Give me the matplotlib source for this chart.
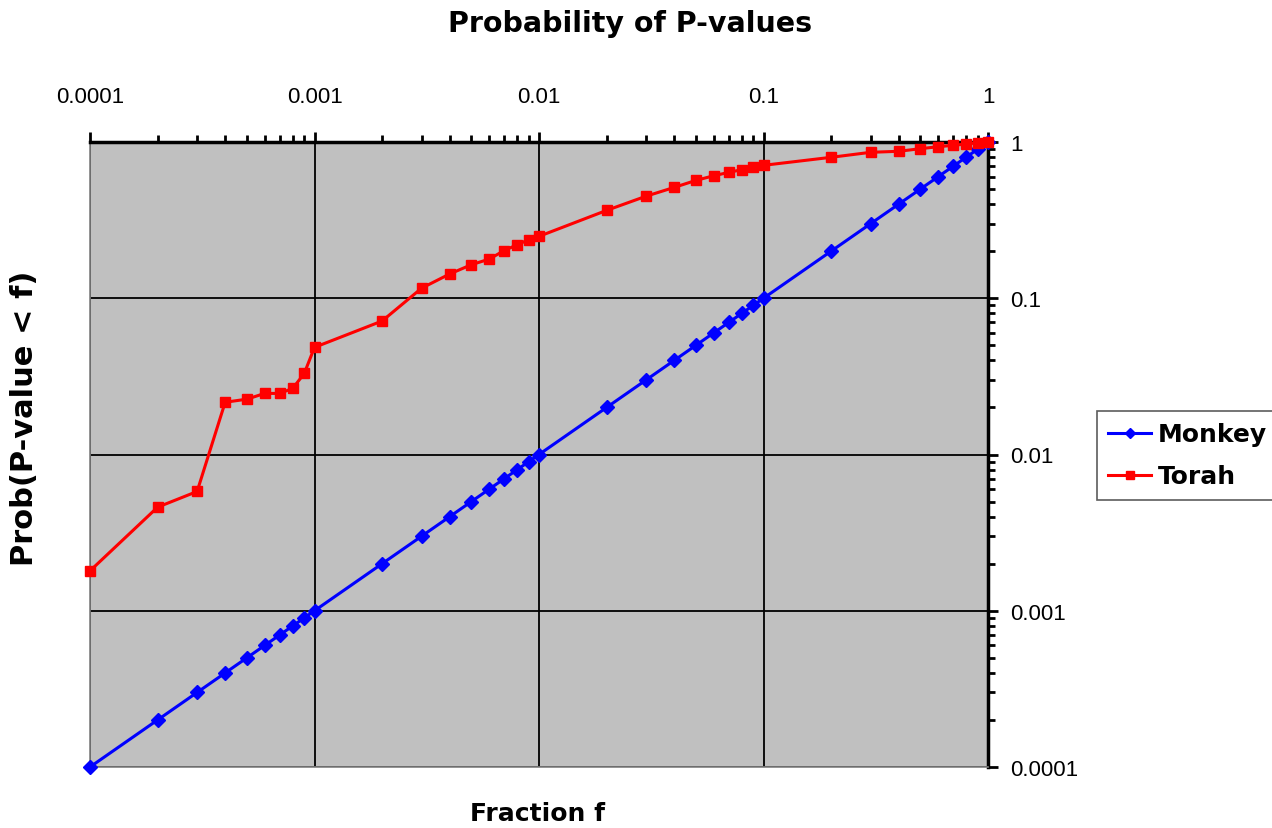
import numpy as np
import matplotlib
matplotlib.use("Agg")
import matplotlib.pyplot as plt
from matplotlib.ticker import FixedLocator, FixedFormatter, LogLocator, NullFormatter

plt.rcParams['font.family'] = ['Liberation Sans', 'DejaVu Sans']

# fraction f (same grid for both series)
frac = [0.0001, 0.0002, 0.0003, 0.0004, 0.0005, 0.0006, 0.0007, 0.0008, 0.0009,
        0.001, 0.002, 0.003, 0.004, 0.005, 0.006, 0.007, 0.008, 0.009,
        0.01, 0.02, 0.03, 0.04, 0.05, 0.06, 0.07, 0.08, 0.09,
        0.1, 0.2, 0.3, 0.4, 0.5, 0.6, 0.7, 0.8, 0.9, 1.0]

monkey = [0.0001, 0.0002, 0.0003, 0.0004, 0.0005, 0.0006, 0.0007, 0.0008, 0.0009,
          0.001, 0.002, 0.003, 0.004, 0.005, 0.006, 0.007, 0.008, 0.009,
          0.01, 0.02, 0.03, 0.04, 0.05, 0.06, 0.07, 0.08, 0.09,
          0.1, 0.2, 0.3, 0.4, 0.5, 0.6, 0.7, 0.8, 0.9, 1.0]

torah = [0.0018, 0.0046, 0.0058, 0.0216, 0.0226, 0.0246, 0.0246, 0.0265, 0.033,
         0.0485, 0.0715, 0.116, 0.143, 0.164, 0.178, 0.202, 0.22, 0.237,
         0.249, 0.365, 0.45, 0.512, 0.568, 0.608, 0.639, 0.665, 0.691,
         0.709, 0.798, 0.859, 0.872, 0.906, 0.933, 0.952, 0.971, 0.99, 1.0]

tick_vals = [0.0001, 0.001, 0.01, 0.1, 1]
tick_labels = ["0.0001", "0.001", "0.01", "0.1", "1"]

fig = plt.figure(figsize=(12.72, 8.29), dpi=100)
ax = fig.add_axes([90/1272, 1-768/829, (988-90)/1272, (768-143)/829])
ax.set_facecolor("#c0c0c0")
ax.set_xscale("log")
ax.set_yscale("log")
ax.set_xlim(0.0001, 1)
ax.set_ylim(0.0001, 1)

ax.plot(frac, monkey, color="#0000ff", lw=2.2, marker="D", ms=7, mec="#0000ff",
        label="Monkey", clip_on=False, zorder=5)
ax.plot(frac, torah, color="#ff0000", lw=2.2, marker="s", ms=6.5, mec="#ff0000",
        label="Torah", clip_on=False, zorder=6)

for a in (ax.xaxis, ax.yaxis):
    a.set_major_locator(FixedLocator(tick_vals))
    a.set_major_formatter(FixedFormatter(tick_labels))
    a.set_minor_locator(LogLocator(base=10, subs=np.arange(2, 10)))
    a.set_minor_formatter(NullFormatter())

ax.tick_params(axis="x", which="both", top=True, bottom=False, labeltop=True,
               labelbottom=False, direction="out", width=2, color="black")
ax.tick_params(axis="y", which="both", right=True, left=False, labelright=True,
               labelleft=False, direction="out", width=2, color="black")
ax.tick_params(which="major", length=7, labelsize=16)
ax.tick_params(which="minor", length=5)
ax.tick_params(axis="x", which="major", pad=18)
ax.tick_params(axis="y", which="major", pad=9)

ax.grid(True, which="major", color="black", lw=1.3)
ax.set_axisbelow(True)

ax.spines["top"].set_linewidth(2.5)
ax.spines["right"].set_linewidth(2.5)
ax.spines["left"].set_color("#808080")
ax.spines["bottom"].set_color("#808080")
ax.spines["left"].set_linewidth(1.2)
ax.spines["bottom"].set_linewidth(1.2)

fig.text(630/1272, 1-24/829, "Probability of P-values", ha="center", va="center",
         fontsize=20.5, fontweight="bold", family="DejaVu Sans")
fig.text(537/1272, 1-814/829, "Fraction f", ha="center", va="center",
         fontsize=18, fontweight="bold", family="DejaVu Sans")
fig.text(25/1272, 1-418/829, "Prob(P-value < f)", ha="center", va="center",
         rotation=90, fontsize=22, fontweight="bold", family="DejaVu Sans")

leg = fig.legend(loc="upper left", bbox_to_anchor=(1097/1272, 1-412/829),
                 prop={"family": "DejaVu Sans", "weight": "bold", "size": 18},
                 frameon=True, fancybox=False, edgecolor="#333333",
                 handlelength=1.7, handletextpad=0.3, borderpad=0.45,
                 labelspacing=0.72, borderaxespad=0, markerscale=0.8)
leg.get_frame().set_linewidth(1.2)

fig.savefig("out.png", dpi=100)
